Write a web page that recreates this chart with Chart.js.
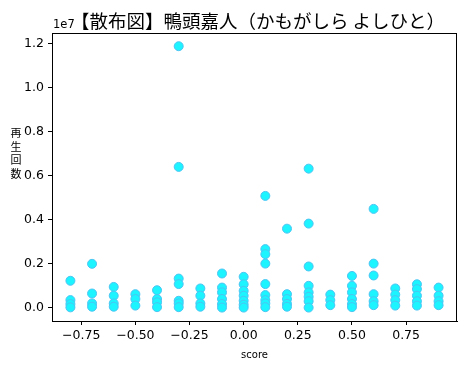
<!DOCTYPE html>
<html>
<head>
<meta charset="utf-8">
<script src="https://cdn.jsdelivr.net/npm/chart.js@4.4.1/dist/chart.umd.min.js"></script>
<style>
  body { margin: 0; background: #fff; }
  #wrap { width: 467px; height: 370px; }
</style>
</head>
<body>
<div id="wrap"><canvas id="scatterChart" width="467" height="370"></canvas></div>
<script>
// sentiment score of each video (x) and its view count (y)
const scores = [
  -0.8, -0.8, -0.8, -0.8,
  -0.7, -0.7, -0.7, -0.7,
  -0.6, -0.6, -0.6, -0.6,
  -0.5, -0.5, -0.5,
  -0.4, -0.4, -0.4, -0.4,
  -0.3, -0.3, -0.3, -0.3, -0.3, -0.3, -0.3,
  -0.2, -0.2, -0.2, -0.2,
  -0.1, -0.1, -0.1, -0.1, -0.1, -0.1,
  0.0, 0.0, 0.0, 0.0, 0.0, 0.0, 0.0,
  0.1, 0.1, 0.1, 0.1, 0.1, 0.1, 0.1, 0.1, 0.1,
  0.2, 0.2, 0.2, 0.2, 0.2,
  0.3, 0.3, 0.3, 0.3, 0.3, 0.3, 0.3, 0.3,
  0.4, 0.4, 0.4,
  0.5, 0.5, 0.5, 0.5, 0.5, 0.5,
  0.6, 0.6, 0.6, 0.6, 0.6, 0.6,
  0.7, 0.7, 0.7, 0.7,
  0.8, 0.8, 0.8, 0.8, 0.8,
  0.9, 0.9, 0.9, 0.9
];
const views = [
  1230000, 350000, 170000, 20000,
  2000000, 650000, 200000, 50000,
  950000, 550000, 200000, 50000,
  620000, 400000, 100000,
  800000, 400000, 250000, 30000,
  11900000, 6410000, 1330000, 1080000, 320000, 200000, 30000,
  880000, 550000, 200000, 50000,
  1560000, 920000, 700000, 400000, 170000, 10000,
  1410000, 1070000, 770000, 550000, 320000, 140000, 10000,
  5090000, 2670000, 2440000, 2010000, 1080000, 580000, 350000, 200000, 30000,
  3600000, 620000, 400000, 180000, 50000,
  6330000, 3830000, 1880000, 1000000, 700000, 500000, 300000, 10000,
  600000, 350000, 120000,
  1450000, 1000000, 700000, 400000, 170000, 30000,
  4500000, 2010000, 1470000, 620000, 300000, 120000,
  880000, 600000, 350000, 100000,
  1070000, 850000, 550000, 300000, 100000,
  920000, 550000, 300000, 120000
];
const xTicks = [-0.75, -0.5, -0.25, 0, 0.25, 0.5, 0.75];
const yTicks = [0, 2000000, 4000000, 6000000, 8000000, 10000000, 12000000];

const titleText = '【散布図】鴨頭嘉人（かもがしら よしひと）';
const xLabel = 'score';
const yLabel = ['再', '生', '回', '数'];

const points = scores.map((s, i) => ({ x: s, y: views[i] }));

const jpFont = '"Noto Sans CJK JP", "Noto Sans", sans-serif';
const tickFont = '"DejaVu Sans", sans-serif';

// frame, title and axis labels drawn matplotlib-style
const decorations = {
  id: 'decorations',
  afterDraw(chart) {
    const ctx = chart.ctx;
    const a = chart.chartArea;
    ctx.save();
    ctx.strokeStyle = '#000';
    ctx.lineWidth = 1;
    ctx.strokeRect(Math.round(a.left) + 0.5, Math.round(a.top) + 0.5,
      Math.round(a.right - a.left) - 1, Math.round(a.bottom - a.top));

    ctx.fillStyle = '#000';
    ctx.font = '18.5px ' + jpFont;
    ctx.textAlign = 'center';
    ctx.textBaseline = 'alphabetic';
    ctx.fillText(titleText, 258, 28);

    ctx.font = '11.5px ' + tickFont;
    ctx.textAlign = 'left';
    ctx.fillText('1e7', a.left + 1, 28);

    ctx.font = '10px ' + tickFont;
    ctx.textAlign = 'center';
    ctx.fillText(xLabel, (a.left + a.right) / 2, 358);

    ctx.font = '11px ' + jpFont;
    yLabel.forEach((ch, i) => {
      ctx.fillText(ch, 16, 137 + i * 13.5);
    });
    ctx.restore();
  }
};

new Chart(document.getElementById('scatterChart'), {
  type: 'scatter',
  data: {
    datasets: [{
      data: points,
      backgroundColor: '#1cf4ff',
      borderColor: '#4cc4f2',
      borderWidth: 1,
      pointRadius: 4.5,
      pointHoverRadius: 4.5
    }]
  },
  options: {
    responsive: false,
    animation: false,
    layout: { padding: { top: 33, right: 10, left: 0, bottom: 0 } },
    plugins: { legend: { display: false }, tooltip: { enabled: false } },
    scales: {
      x: {
        type: 'linear',
        min: -0.885,
        max: 0.985,
        afterBuildTicks: s => { s.ticks = xTicks.map(v => ({ value: v })); },
        afterFit: s => { s.height = 49; },
        grid: { drawOnChartArea: false, drawTicks: true, tickLength: 4, color: '#000' },
        border: { display: true, color: '#000' },
        ticks: {
          color: '#000',
          padding: 3,
          maxRotation: 0,
          font: { family: tickFont, size: 12.5 },
          callback: v => (v < 0 ? '\u2212' : '') + Math.abs(v).toFixed(2)
        }
      },
      y: {
        type: 'linear',
        min: -600000,
        max: 12500000,
        afterBuildTicks: s => { s.ticks = yTicks.map(v => ({ value: v })); },
        afterFit: s => { s.width = 52; },
        grid: { drawOnChartArea: false, drawTicks: true, tickLength: 4, color: '#000' },
        border: { display: true, color: '#000' },
        ticks: {
          color: '#000',
          padding: 4,
          font: { family: tickFont, size: 12.5 },
          callback: v => (v / 10000000).toFixed(1)
        }
      }
    }
  },
  plugins: [decorations]
});
</script>
</body>
</html>
